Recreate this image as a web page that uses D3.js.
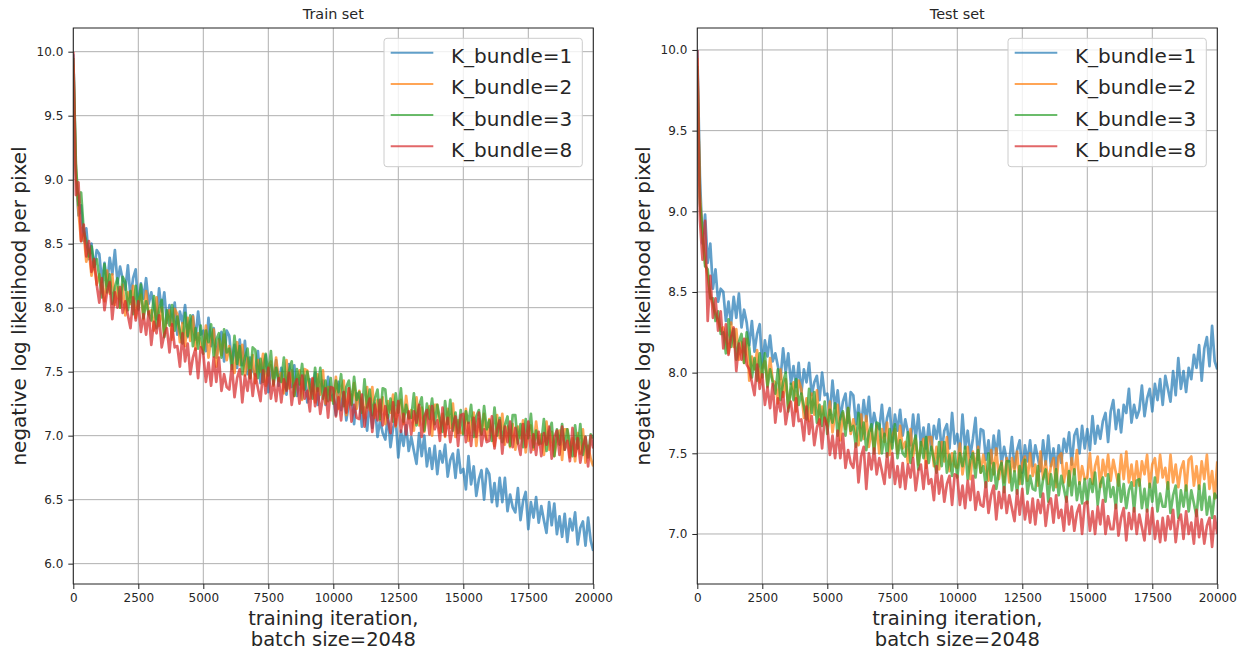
<!DOCTYPE html>
<html><head><meta charset="utf-8">
<script src="https://cdn.jsdelivr.net/npm/d3@7"></script>
<style>
body{margin:0;background:#fff;}
text{font-family:"DejaVu Sans",sans-serif;}
</style></head><body>
<svg id="chart" width="1243" height="651"></svg>
<script>
const iterations = d3.range(0, 20001, 100);
const seriesNames = ["K_bundle=1", "K_bundle=2", "K_bundle=3", "K_bundle=8"];
const seriesColors = ["#1f77b4", "#ff7f0e", "#2ca02c", "#d62728"];
const xTickValues = [0, 2500, 5000, 7500, 10000, 12500, 15000, 17500, 20000];
const yTicksTrain = [6.0, 6.5, 7.0, 7.5, 8.0, 8.5, 9.0, 9.5, 10.0];
const yTicksTest = [7.0, 7.5, 8.0, 8.5, 9.0, 9.5, 10.0];

const trainK1 = [
9.98,9.05,8.72,8.80,8.52,8.62,8.38,8.50,8.30,8.45,
8.42,8.20,8.35,8.17,8.39,8.26,8.45,8.19,8.32,8.22,
8.14,8.33,8.08,8.23,8.30,7.98,8.19,8.07,8.23,8.03,
8.12,8.01,7.91,8.15,7.97,8.12,7.88,8.02,7.86,8.04,
7.79,7.97,7.88,8.02,7.77,7.89,7.94,7.75,7.97,7.79,
7.82,7.66,7.92,7.70,7.84,7.61,7.74,7.81,7.58,7.82,
7.78,7.56,7.71,7.53,7.75,7.55,7.74,7.48,7.61,7.51,
7.47,7.66,7.41,7.56,7.63,7.34,7.55,7.43,7.59,7.39,
7.53,7.42,7.32,7.56,7.38,7.55,7.31,7.45,7.29,7.47,
7.26,7.44,7.35,7.49,7.24,7.38,7.43,7.24,7.46,7.28,
7.32,7.16,7.42,7.20,7.34,7.12,7.25,7.32,7.09,7.33,
7.29,7.07,7.22,7.04,7.26,7.06,7.25,6.99,7.12,7.02,
6.97,7.16,6.91,7.06,7.13,6.83,7.04,6.92,7.08,6.88,
6.99,6.88,6.78,7.02,6.84,7.00,6.76,6.90,6.74,6.92,
6.70,6.88,6.79,6.93,6.68,6.81,6.86,6.67,6.89,6.71,
6.74,6.58,6.84,6.62,6.76,6.53,6.66,6.73,6.50,6.74,
6.70,6.48,6.63,6.45,6.67,6.48,6.67,6.41,6.54,6.44,
6.40,6.59,6.34,6.49,6.56,6.27,6.48,6.36,6.52,6.32,
6.45,6.34,6.24,6.48,6.30,6.47,6.23,6.37,6.21,6.39,
6.17,6.35,6.26,6.40,6.15,6.28,6.33,6.14,6.36,6.18,
6.10];
const trainK2 = [
9.90,9.08,8.75,8.52,8.58,8.36,8.45,8.25,8.36,8.18,
8.26,8.15,8.05,8.29,8.11,8.26,8.02,8.16,8.00,8.18,
7.94,8.12,8.03,8.17,7.92,8.05,8.10,7.91,8.13,7.95,
7.98,7.82,8.08,7.86,8.00,7.78,7.91,7.98,7.75,7.99,
7.95,7.73,7.88,7.70,7.92,7.74,7.93,7.67,7.80,7.70,
7.67,7.86,7.61,7.76,7.83,7.54,7.75,7.63,7.79,7.59,
7.70,7.59,7.49,7.73,7.55,7.71,7.47,7.61,7.45,7.63,
7.41,7.59,7.50,7.64,7.39,7.53,7.58,7.39,7.61,7.43,
7.49,7.33,7.59,7.37,7.51,7.31,7.44,7.51,7.28,7.52,
7.51,7.29,7.44,7.26,7.48,7.32,7.51,7.25,7.38,7.28,
7.27,7.46,7.21,7.36,7.43,7.16,7.37,7.25,7.41,7.21,
7.35,7.24,7.14,7.38,7.20,7.38,7.14,7.28,7.12,7.30,
7.09,7.27,7.18,7.32,7.07,7.23,7.28,7.09,7.31,7.13,
7.20,7.04,7.30,7.08,7.22,7.03,7.16,7.23,7.00,7.24,
7.24,7.02,7.17,6.99,7.21,7.06,7.25,6.99,7.12,7.02,
7.02,7.21,6.96,7.11,7.18,6.92,7.13,7.01,7.17,6.97,
7.13,7.02,6.92,7.16,6.98,7.17,6.93,7.07,6.91,7.09,
6.89,7.07,6.98,7.12,6.87,7.03,7.08,6.89,7.11,6.93,
7.01,6.85,7.11,6.89,7.03,6.84,6.97,7.04,6.81,7.05,
7.05,6.83,6.98,6.80,7.02,6.86,7.05,6.79,6.92,6.82,
6.76];
const trainK3 = [
9.95,9.12,8.80,8.90,8.60,8.52,8.40,8.48,8.32,8.38,
8.24,8.08,8.34,8.12,8.26,8.03,8.16,8.23,8.00,8.24,
8.20,7.98,8.13,7.95,8.17,7.99,8.18,7.92,8.05,7.95,
7.90,8.09,7.84,7.99,8.06,7.77,7.98,7.86,8.02,7.82,
7.93,7.82,7.72,7.96,7.78,7.94,7.70,7.84,7.68,7.86,
7.64,7.82,7.73,7.87,7.62,7.75,7.80,7.61,7.83,7.65,
7.68,7.52,7.78,7.56,7.70,7.48,7.61,7.68,7.45,7.69,
7.67,7.45,7.60,7.42,7.64,7.47,7.66,7.40,7.53,7.43,
7.42,7.61,7.36,7.51,7.58,7.31,7.52,7.40,7.56,7.36,
7.50,7.39,7.29,7.53,7.35,7.53,7.29,7.43,7.27,7.45,
7.25,7.43,7.34,7.48,7.23,7.38,7.43,7.24,7.46,7.28,
7.34,7.18,7.44,7.22,7.36,7.16,7.29,7.36,7.13,7.37,
7.36,7.14,7.29,7.11,7.33,7.18,7.37,7.11,7.24,7.14,
7.14,7.33,7.08,7.23,7.30,7.04,7.25,7.13,7.29,7.09,
7.24,7.13,7.03,7.27,7.09,7.28,7.04,7.18,7.02,7.20,
7.01,7.19,7.10,7.24,6.99,7.15,7.20,7.01,7.23,7.05,
7.12,6.96,7.22,7.00,7.14,6.95,7.08,7.15,6.92,7.16,
7.16,6.94,7.09,6.91,7.13,6.98,7.17,6.91,7.04,6.94,
6.94,7.13,6.88,7.03,7.10,6.84,7.05,6.93,7.09,6.89,
7.05,6.94,6.84,7.08,6.90,7.09,6.85,6.99,6.83,7.01,
6.98];
const trainK8 = [
10.00,8.88,8.98,8.52,8.65,8.40,8.52,8.28,8.38,8.18,
8.04,8.23,7.98,8.13,8.20,7.91,8.12,8.00,8.16,7.96,
8.05,7.94,7.84,8.08,7.90,8.05,7.81,7.95,7.79,7.97,
7.71,7.89,7.80,7.94,7.69,7.79,7.84,7.65,7.87,7.69,
7.70,7.54,7.80,7.58,7.72,7.48,7.61,7.68,7.45,7.69,
7.64,7.42,7.57,7.39,7.61,7.42,7.61,7.35,7.48,7.38,
7.36,7.55,7.30,7.45,7.52,7.26,7.47,7.35,7.51,7.31,
7.48,7.37,7.27,7.51,7.33,7.53,7.29,7.43,7.27,7.45,
7.26,7.44,7.35,7.49,7.24,7.39,7.44,7.25,7.47,7.29,
7.35,7.19,7.45,7.23,7.37,7.17,7.30,7.37,7.14,7.38,
7.37,7.15,7.30,7.12,7.34,7.18,7.37,7.11,7.24,7.14,
7.13,7.32,7.07,7.22,7.29,7.03,7.24,7.12,7.28,7.08,
7.23,7.12,7.02,7.26,7.08,7.27,7.03,7.17,7.01,7.19,
7.01,7.19,7.10,7.24,6.99,7.15,7.20,7.01,7.23,7.05,
7.12,6.96,7.22,7.00,7.14,6.95,7.08,7.15,6.92,7.16,
7.17,6.95,7.10,6.92,7.14,6.99,7.18,6.92,7.05,6.95,
6.96,7.15,6.90,7.05,7.12,6.86,7.07,6.95,7.11,6.91,
7.06,6.95,6.85,7.09,6.91,7.11,6.87,7.01,6.85,7.03,
6.84,7.02,6.93,7.07,6.82,6.99,7.04,6.85,7.07,6.89,
6.96,6.80,7.06,6.84,6.98,6.79,6.92,6.99,6.76,7.00,
6.90];

const testK1 = [
10.00,9.22,8.80,8.98,8.68,8.80,8.52,8.64,8.44,8.52,
8.50,8.32,8.44,8.30,8.47,8.34,8.49,8.28,8.39,8.31,
8.17,8.32,8.13,8.24,8.30,8.03,8.20,8.10,8.23,8.07,
8.12,8.04,7.96,8.15,8.00,8.12,7.93,8.04,7.91,8.06,
7.87,8.02,7.94,8.06,7.86,7.94,7.98,7.83,8.00,7.86,
7.87,7.74,7.95,7.78,7.89,7.71,7.82,7.87,7.69,7.88,
7.86,7.68,7.80,7.66,7.83,7.70,7.85,7.64,7.75,7.67,
7.65,7.80,7.61,7.72,7.78,7.57,7.74,7.64,7.77,7.61,
7.71,7.63,7.55,7.74,7.59,7.74,7.55,7.66,7.53,7.68,
7.52,7.67,7.59,7.71,7.51,7.64,7.68,7.53,7.75,7.56,
7.62,7.49,7.74,7.53,7.64,7.48,7.59,7.72,7.46,7.65,
7.64,7.46,7.58,7.44,7.61,7.49,7.64,7.43,7.54,7.46,
7.45,7.60,7.41,7.52,7.58,7.38,7.55,7.45,7.58,7.42,
7.55,7.47,7.39,7.58,7.43,7.61,7.42,7.53,7.40,7.55,
7.44,7.59,7.51,7.63,7.43,7.61,7.65,7.50,7.67,7.53,
7.65,7.52,7.73,7.56,7.67,7.59,7.70,7.75,7.57,7.76,
7.83,7.65,7.77,7.63,7.80,7.75,7.90,7.69,7.80,7.72,
7.77,7.92,7.73,7.84,7.90,7.76,7.93,7.83,7.96,7.80,
7.98,7.90,7.82,8.01,7.86,8.09,7.90,8.01,7.88,8.03,
7.96,8.11,8.03,8.17,7.95,8.15,8.22,8.04,8.29,8.07,
8.02];
const testK2 = [
9.95,9.10,8.85,8.68,8.60,8.48,8.42,8.36,8.32,8.26,
8.28,8.20,8.12,8.31,8.16,8.27,8.08,8.19,8.06,8.21,
7.95,8.10,8.02,8.14,7.94,8.03,8.07,7.92,8.09,7.95,
7.94,7.81,8.02,7.85,7.96,7.78,7.89,7.94,7.76,7.95,
7.90,7.72,7.84,7.70,7.87,7.74,7.89,7.68,7.79,7.71,
7.67,7.82,7.63,7.74,7.80,7.58,7.75,7.65,7.78,7.62,
7.71,7.63,7.55,7.74,7.59,7.73,7.54,7.65,7.52,7.67,
7.50,7.65,7.57,7.69,7.49,7.61,7.65,7.50,7.67,7.53,
7.57,7.44,7.65,7.48,7.59,7.43,7.54,7.59,7.41,7.60,
7.60,7.42,7.54,7.40,7.57,7.45,7.60,7.39,7.50,7.42,
7.41,7.56,7.37,7.48,7.54,7.34,7.51,7.41,7.54,7.38,
7.49,7.41,7.33,7.52,7.37,7.53,7.34,7.45,7.32,7.47,
7.32,7.47,7.39,7.51,7.31,7.44,7.48,7.33,7.50,7.36,
7.43,7.30,7.51,7.34,7.45,7.31,7.42,7.47,7.29,7.48,
7.50,7.32,7.44,7.30,7.47,7.37,7.52,7.31,7.42,7.34,
7.35,7.50,7.31,7.42,7.48,7.29,7.46,7.36,7.49,7.33,
7.46,7.38,7.30,7.49,7.34,7.51,7.32,7.43,7.30,7.45,
7.30,7.45,7.37,7.49,7.29,7.43,7.47,7.32,7.49,7.35,
7.41,7.28,7.49,7.32,7.43,7.29,7.40,7.45,7.27,7.46,
7.48,7.30,7.42,7.28,7.45,7.34,7.49,7.28,7.39,7.22,
7.45];
const testK3 = [
9.90,9.05,8.88,8.66,8.64,8.46,8.46,8.32,8.38,8.24,
8.25,8.12,8.33,8.16,8.27,8.08,8.19,8.24,8.06,8.25,
8.15,7.97,8.09,7.95,8.12,7.97,8.12,7.91,8.02,7.94,
7.87,8.02,7.83,7.94,8.00,7.76,7.93,7.83,7.96,7.80,
7.87,7.79,7.71,7.90,7.75,7.88,7.69,7.80,7.67,7.82,
7.62,7.77,7.69,7.81,7.61,7.72,7.76,7.61,7.78,7.64,
7.67,7.54,7.75,7.58,7.69,7.52,7.63,7.68,7.50,7.69,
7.68,7.50,7.62,7.48,7.65,7.53,7.68,7.47,7.58,7.50,
7.48,7.63,7.44,7.55,7.61,7.40,7.57,7.47,7.60,7.44,
7.54,7.46,7.38,7.57,7.42,7.57,7.38,7.49,7.36,7.51,
7.35,7.50,7.42,7.54,7.34,7.46,7.50,7.35,7.52,7.38,
7.42,7.29,7.50,7.33,7.44,7.28,7.39,7.44,7.26,7.45,
7.45,7.27,7.39,7.25,7.42,7.31,7.46,7.25,7.36,7.28,
7.27,7.42,7.23,7.34,7.40,7.20,7.37,7.27,7.40,7.24,
7.36,7.28,7.20,7.39,7.24,7.40,7.21,7.32,7.19,7.34,
7.19,7.34,7.26,7.38,7.18,7.31,7.35,7.20,7.37,7.23,
7.29,7.16,7.37,7.20,7.31,7.16,7.27,7.32,7.14,7.33,
7.34,7.16,7.28,7.14,7.31,7.20,7.35,7.14,7.25,7.17,
7.17,7.32,7.13,7.24,7.30,7.10,7.27,7.17,7.30,7.14,
7.27,7.19,7.11,7.30,7.15,7.31,7.12,7.23,7.10,7.25,
7.22];
const testK8 = [
10.00,8.95,8.70,8.94,8.32,8.60,8.34,8.46,8.26,8.38,
8.15,8.30,8.11,8.22,8.28,8.01,8.18,8.08,8.21,8.05,
8.02,7.94,7.86,8.05,7.90,7.99,7.80,7.91,7.78,7.93,
7.69,7.84,7.76,7.88,7.68,7.78,7.82,7.67,7.84,7.70,
7.71,7.58,7.79,7.62,7.73,7.55,7.66,7.71,7.53,7.72,
7.67,7.49,7.61,7.47,7.64,7.47,7.62,7.41,7.52,7.44,
7.41,7.56,7.32,7.48,7.54,7.28,7.50,7.40,7.53,7.37,
7.47,7.39,7.31,7.50,7.35,7.50,7.31,7.42,7.29,7.44,
7.28,7.43,7.35,7.47,7.27,7.39,7.43,7.28,7.45,7.31,
7.34,7.21,7.42,7.25,7.36,7.20,7.31,7.36,7.18,7.37,
7.36,7.18,7.30,7.16,7.33,7.21,7.36,7.15,7.26,7.18,
7.17,7.32,7.13,7.24,7.30,7.09,7.26,7.16,7.29,7.13,
7.24,7.16,7.08,7.27,7.12,7.28,7.09,7.20,7.07,7.22,
7.06,7.21,7.13,7.25,7.05,7.18,7.22,7.07,7.24,7.10,
7.15,7.02,7.23,7.06,7.17,7.02,7.13,7.18,7.00,7.19,
7.20,7.02,7.14,7.00,7.17,7.06,7.21,7.00,7.11,7.03,
7.03,7.18,6.99,7.10,7.16,6.96,7.13,7.03,7.16,7.00,
7.12,7.04,6.96,7.15,7.00,7.16,6.97,7.08,6.95,7.10,
6.96,7.11,7.03,7.15,6.95,7.08,7.12,6.97,7.14,7.00,
7.07,6.94,7.15,6.98,7.09,6.94,7.05,7.10,6.92,7.11,
7.00];

const svg = d3.select("#chart");
const panels = [
  {id:"train", title:"Train set", left:73.3, right:593.3, top:28, bottom:584, ydom:[5.841,10.185], yticks:yTicksTrain, series:[trainK1,trainK2,trainK3,trainK8]},
  {id:"test", title:"Test set", left:697.3, right:1217.3, top:28, bottom:584, ydom:[6.69,10.136], yticks:yTicksTest, series:[testK1,testK2,testK3,testK8]}
];

panels.forEach(p => {
  const x = d3.scaleLinear().domain([0, 20000]).range([p.left, p.right]);
  const y = d3.scaleLinear().domain(p.ydom).range([p.bottom, p.top]);
  const g = svg.append("g");

  g.append("clipPath").attr("id", "clip-" + p.id)
    .append("rect").attr("x", p.left).attr("y", p.top)
    .attr("width", p.right - p.left).attr("height", p.bottom - p.top);

  g.append("g").selectAll("line").data(xTickValues).join("line")
    .attr("x1", d => x(d)).attr("x2", d => x(d)).attr("y1", p.top).attr("y2", p.bottom)
    .attr("stroke", "#b0b0b0").attr("stroke-width", 1);
  g.append("g").selectAll("line").data(p.yticks).join("line")
    .attr("y1", d => y(d)).attr("y2", d => y(d)).attr("x1", p.left).attr("x2", p.right)
    .attr("stroke", "#b0b0b0").attr("stroke-width", 1);

  const line = d3.line().x((d, i) => x(iterations[i])).y(d => y(d));
  const lg = g.append("g").attr("clip-path", "url(#clip-" + p.id + ")");
  p.series.forEach((s, k) => {
    lg.append("path").datum(s).attr("d", line)
      .attr("fill", "none").attr("stroke", seriesColors[k])
      .attr("stroke-opacity", 0.7).attr("stroke-width", 2.7)
      .attr("stroke-linejoin", "round");
  });

  g.append("rect").attr("x", p.left).attr("y", p.top)
    .attr("width", p.right - p.left).attr("height", p.bottom - p.top)
    .attr("fill", "none").attr("stroke", "#222").attr("stroke-width", 1);

  const xa = g.append("g").attr("transform", `translate(0,${p.bottom})`)
    .call(d3.axisBottom(x).tickValues(xTickValues).tickSize(5).tickPadding(4).tickFormat(d3.format("d")));
  const ya = g.append("g").attr("transform", `translate(${p.left},0)`)
    .call(d3.axisLeft(y).tickValues(p.yticks).tickSize(5).tickPadding(5).tickFormat(d3.format(".1f")));
  [xa, ya].forEach(a => {
    a.select(".domain").remove();
    a.selectAll(".tick line").attr("stroke", "#222").attr("stroke-width", 1);
    a.selectAll(".tick text").attr("fill", "#262626").style("font-size", "12px")
      .style("font-family", "'DejaVu Sans', sans-serif");
  });

  const cx = (p.left + p.right) / 2;
  g.append("text").attr("x", cx).attr("y", 18.5).attr("text-anchor", "middle")
    .style("font-size", "14.4px").attr("fill", "#262626").text(p.title);

  const xl = g.append("text").attr("text-anchor", "middle").style("font-size", "19.5px").attr("fill", "#262626");
  xl.append("tspan").attr("x", cx).attr("y", 624.5).text("training iteration,");
  xl.append("tspan").attr("x", cx).attr("y", 646.2).text("batch size=2048");

  const ylx = p.left - 47.8, yly = (p.top + p.bottom) / 2;
  g.append("text").attr("transform", `translate(${ylx},${yly}) rotate(-90)`)
    .attr("text-anchor", "middle").style("font-size", "20px").attr("fill", "#262626")
    .text("negative log likelihood per pixel");

  const lgx = p.right - 209.3;
  const leg = g.append("g");
  leg.append("rect").attr("x", lgx).attr("y", 38.3).attr("width", 198.3).attr("height", 128.4)
    .attr("rx", 3).attr("fill", "#fff").attr("fill-opacity", 0.8).attr("stroke", "#cccccc").attr("stroke-width", 1);
  seriesNames.forEach((n, k) => {
    const ly = 52.7 + k * 31.2;
    leg.append("line").attr("x1", lgx + 6.7).attr("x2", lgx + 49.3).attr("y1", ly).attr("y2", ly)
      .attr("stroke", seriesColors[k]).attr("stroke-opacity", 0.7).attr("stroke-width", 2);
    leg.append("text").attr("x", lgx + 67).attr("y", ly + 10.5).style("font-size", "20px")
      .attr("fill", "#262626").text(n);
  });
});
</script>
</body></html>
